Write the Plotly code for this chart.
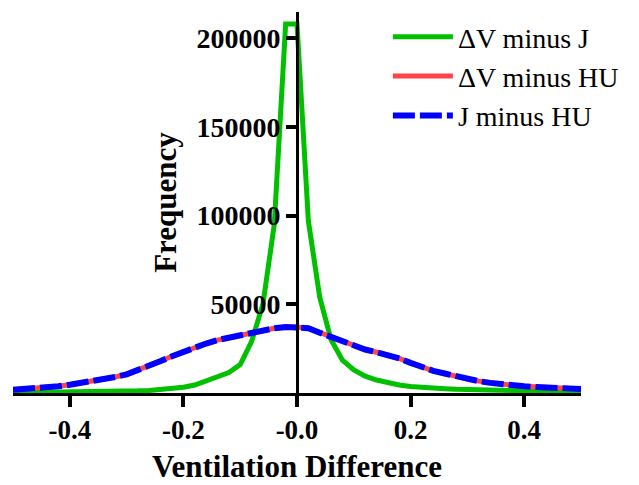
import plotly.graph_objects as go

x_vals = [round(-0.5 + 0.02 * i, 2) for i in range(51)]

# x: -0.50 ... 0.50 in steps of 0.02
dv_minus_j = [200, 230, 270, 320, 380, 450, 530, 620, 730, 860,        # -0.50 .. -0.32
              1000, 1200, 1450, 1800, 2400, 3200, 4500, 6800, 9000, 11500,  # -0.30 .. -0.12
              16000, 29000, 50000, 95000, 208000, 208000,             # -0.10 .. 0.00
              97000, 54000, 30000, 18500, 13000, 9500, 7300, 5700, 4500, 3700,  # 0.02 .. 0.20
              3100, 2700, 2400, 2100, 1900, 1700, 1500, 1350, 1200, 1100,       # 0.22 .. 0.40
              1000, 900, 800, 700, 600]                                         # 0.42 .. 0.50

dv_minus_hu = [1800, 2200, 2700, 3200, 3800, 4700, 5600, 6600, 7700, 9000,
               10500, 12800, 15300, 18000, 20700, 23300, 25800, 27900, 29800, 31300,
               32700, 34000, 35100, 36500, 37200, 37200, 36500, 34000, 31500, 29000,
               26500, 24500, 23000, 21500, 19500, 17000, 14500, 12500, 11000, 9300,
               7900, 6700, 5700, 4900, 4300, 3800, 3400, 3100, 2800, 2600, 2300]

j_minus_hu = [1800, 2200, 2700, 3200, 3800, 4700, 5600, 6600, 7700, 9000,
              10500, 12800, 15300, 18000, 20700, 23300, 25800, 27900, 29800, 31300,
              32700, 34000, 35100, 36500, 37200, 37200, 36500, 34000, 31500, 29000,
              26500, 24500, 23000, 21500, 19500, 17000, 14500, 12500, 11000, 9300,
              7900, 6700, 5700, 4900, 4300, 3800, 3400, 3100, 2800, 2600, 2300]

x_tick_vals = [-0.4, -0.2, 0.0, 0.2, 0.4]
x_tick_text = ["-0.4", "-0.2", "-0.0", "0.2", "0.4"]
y_tick_vals = [50000, 100000, 150000, 200000]
y_tick_text = ["50000", "100000", "150000", "200000"]

fig = go.Figure()
fig.add_trace(go.Scatter(x=x_vals, y=dv_minus_j, mode="lines", name="ΔV minus J",
                         line=dict(color="#00C000", width=5)))
fig.add_trace(go.Scatter(x=x_vals, y=dv_minus_hu, mode="lines", name="ΔV minus HU",
                         line=dict(color="#FF4545", width=5)))
fig.add_trace(go.Scatter(x=x_vals, y=j_minus_hu, mode="lines", name="J minus HU",
                         line=dict(color="#0000FF", width=6, dash="22px,5px")))

# page body has an 8px default margin, so the figure is 8px smaller
fig.update_layout(
    width=631, height=477,
    margin=dict(l=5, r=58, t=4, b=92),
    paper_bgcolor="white", plot_bgcolor="white",
    showlegend=True,
    legend=dict(x=0.66, y=1.0, xanchor="left", yanchor="top",
                font=dict(family="Liberation Serif", size=28, color="black"),
                itemwidth=60, bgcolor="rgba(0,0,0,0)"),
    xaxis=dict(range=[-0.5, 0.5], showgrid=False, zeroline=False,
               showline=True, linecolor="black", linewidth=3,
               ticks="outside", ticklen=11, tickwidth=3.5, tickcolor="black",
               tickvals=x_tick_vals, ticktext=x_tick_text,
               tickfont=dict(family="Liberation Serif", size=27, color="black", weight="bold"),
               title=dict(text="<b>Ventilation Difference</b>",
                          font=dict(family="Liberation Serif", size=31, color="black"),
                          standoff=11)),
    yaxis=dict(range=[0, 214800], showgrid=False, zeroline=False,
               anchor="free", position=0.5,
               showline=True, linecolor="black", linewidth=3,
               ticks="outside", ticklen=10, tickwidth=3.5, tickcolor="black",
               tickvals=y_tick_vals, ticktext=y_tick_text,
               tickfont=dict(family="Liberation Serif", size=28, color="black", weight="bold"),
               title=dict(text="<b>Frequency</b>",
                          font=dict(family="Liberation Serif", size=31, color="black"),
                          standoff=9)),
)

fig.write_html("out.html")
